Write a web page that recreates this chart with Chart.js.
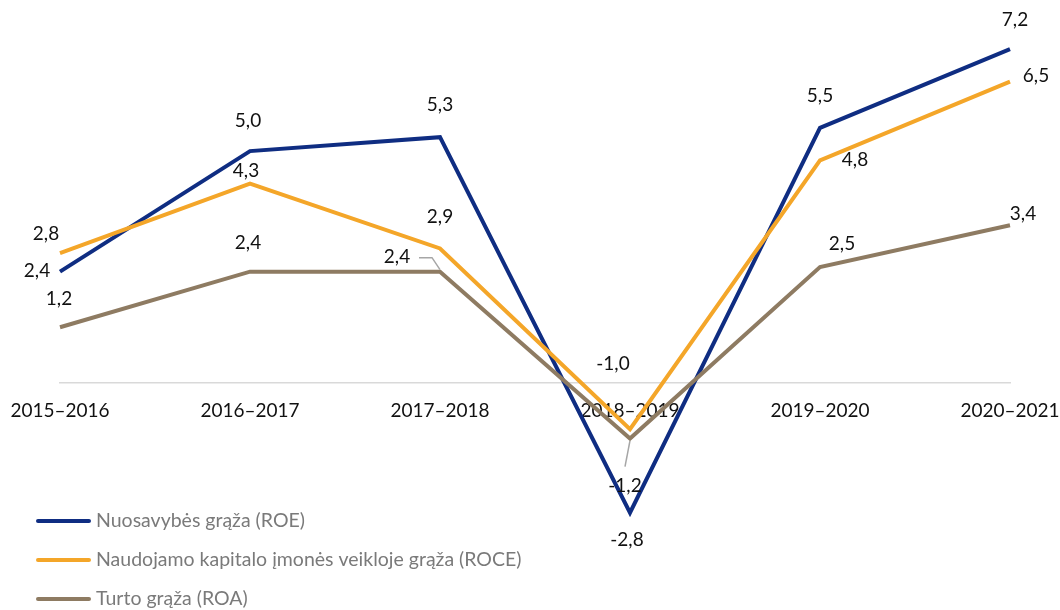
<!DOCTYPE html>
<html lang="lt">
<head>
<meta charset="utf-8">
<title>Grąžos rodikliai</title>
<script src="https://cdn.jsdelivr.net/npm/chart.js@4.4.1/dist/chart.umd.min.js"></script>
<style>
  html, body { margin: 0; padding: 0; background: #fff; }
  #wrap { width: 1060px; height: 610px; }
</style>
</head>
<body>
<div id="wrap"><canvas id="chart" width="1060" height="610"></canvas></div>
<script>
// ---- data ----
const periods = ["2015–2016", "2016–2017", "2017–2018", "2018–2019", "2019–2020", "2020–2021"];
const roe = [2.4, 5.0, 5.3, -2.8, 5.5, 7.2];
const roce = [2.8, 4.3, 2.9, -1.0, 4.8, 6.5];
const roa = [1.2, 2.4, 2.4, -1.2, 2.5, 3.4];
const seriesNames = [
  "Nuosavybės grąža (ROE)",
  "Naudojamo kapitalo įmonės veikloje grąža (ROCE)",
  "Turto grąža (ROA)"
];

// ---- styling ----
const FONT = "Lato, 'Open Sans', sans-serif";
const colors = ["#0f2d82", "#f4a629", "#8e7b62"];

// label offsets (text centre relative to point), hand placed like the original
const labelOffsets = [
  [[-23, -1], [-2, -30], [0, -32], [-3, 27], [0, -32], [5, -29]],
  [[-14, -19], [-4, -13], [0, -32], [-17, -65], [35, 0], [26, -6]],
  [[-1, -28], [-2, -29], [-43, -15], [-5, 47], [22, -23], [13, -11]]
];
// leader lines for labels that sit away from their point: [series, index]
const leaders = [[2, 2], [2, 3]];

const fmt = v => v.toFixed(1).replace(".", ",");

const dataLabels = {
  id: "dataLabels",
  afterDatasetsDraw(chart) {
    const c = chart.ctx;
    c.save();
    // leader lines
    c.strokeStyle = "#a6a6a6";
    c.lineWidth = 1.5;
    leaders.forEach(([s, i]) => {
      const p = chart.getDatasetMeta(s).data[i];
      const [dx, dy] = labelOffsets[s][i];
      c.beginPath();
      if (dx < -20) {
        c.moveTo(p.x + dx + 22, p.y + dy + 1);
        c.lineTo(p.x - 8, p.y + dy + 1);
        c.lineTo(p.x, p.y - 2);
      } else {
        c.moveTo(p.x + dx, p.y + dy - 19);
        c.lineTo(p.x, p.y + 2);
      }
      c.stroke();
    });

    c.font = "19px " + FONT;
    c.fillStyle = "#111";
    c.textAlign = "center";
    c.textBaseline = "middle";
    chart.data.datasets.forEach((ds, s) => {
      const meta = chart.getDatasetMeta(s);
      meta.data.forEach((p, i) => {
        const [dx, dy] = labelOffsets[s][i];
        c.fillText(fmt(ds.data[i]), p.x + dx, p.y + dy);
      });
    });
    c.restore();
  }
};

const sideLegend = {
  id: "sideLegend",
  afterDraw(chart) {
    const c = chart.ctx;
    const rows = [521, 560, 599];
    c.save();
    c.font = "19.5px " + FONT;
    c.textBaseline = "middle";
    c.textAlign = "left";
    chart.data.datasets.forEach((ds, s) => {
      const y = rows[s];
      c.strokeStyle = ds.borderColor;
      c.lineWidth = 4;
      c.lineCap = "round";
      c.beginPath();
      c.moveTo(38, y);
      c.lineTo(89, y);
      c.stroke();
      c.fillStyle = "#7a7a7a";
      c.fillText(ds.label, 96, y);
    });
    c.restore();
  }
};

const series = [roe, roce, roa];

new Chart(document.getElementById("chart"), {
  type: "line",
  data: {
    labels: periods,
    datasets: series.map((data, s) => ({
      label: seriesNames[s],
      data,
      borderColor: colors[s],
      backgroundColor: colors[s],
      borderWidth: 4,
      borderJoinStyle: "miter",
      pointRadius: 0,
      tension: 0,
      order: 2 - s
    }))
  },
  options: {
    responsive: false,
    animation: false,
    layout: { padding: { left: 60, right: 50, top: 12, bottom: 88 } },
    plugins: { legend: { display: false }, tooltip: { enabled: false } },
    scales: {
      x: {
        position: { y: 0 },
        offset: false,
        grid: { display: false, drawTicks: false },
        border: { display: true, color: "#d9d9d9", width: 1.5 },
        ticks: {
          color: "#111",
          font: { family: FONT, size: 19 },
          padding: 17,
          maxRotation: 0,
          autoSkip: false
        },
        afterFit(scale) {
          // labels may overhang the plot edges, as in the original
          scale.paddingLeft = 0;
          scale.paddingRight = 0;
        }
      },
      y: {
        display: false,
        min: -3,
        max: 8
      }
    }
  },
  plugins: [dataLabels, sideLegend]
});
</script>
</body>
</html>
